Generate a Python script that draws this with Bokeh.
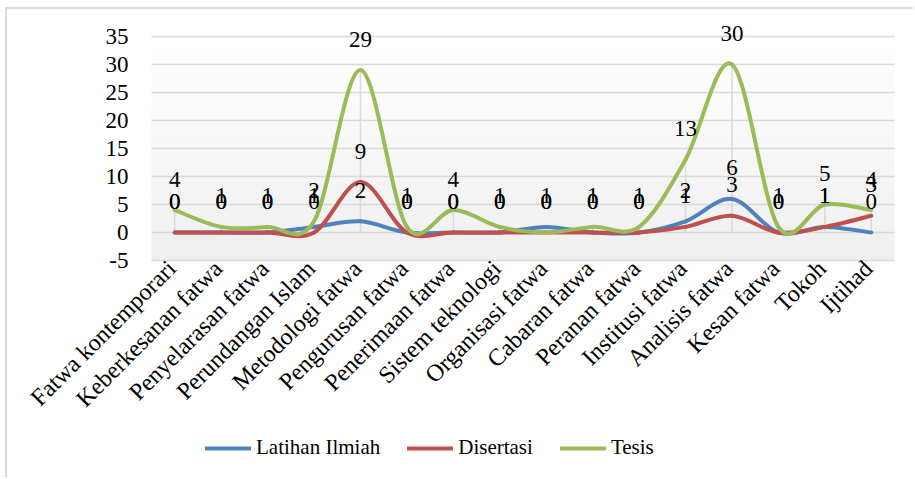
import math
from bokeh.plotting import figure
from bokeh.models import (Range1d, ColumnDataSource, LabelSet,
                          Legend, LegendItem, BoxAnnotation)
from bokeh.embed import file_html
from bokeh.resources import INLINE

categories = ["Fatwa kontemporari", "Keberkesanan fatwa", "Penyelarasan fatwa",
              "Perundangan Islam", "Metodologi fatwa", "Pengurusan fatwa",
              "Penerimaan fatwa", "Sistem teknologi", "Organisasi fatwa",
              "Cabaran fatwa", "Peranan fatwa", "Institusi fatwa",
              "Analisis fatwa", "Kesan fatwa", "Tokoh", "Ijtihad"]
latihan_ilmiah = [0, 0, 0, 1, 2, 0, 0, 0, 1, 0, 0, 2, 6, 0, 1, 0]
disertasi = [0, 0, 0, 0, 9, 0, 0, 0, 0, 0, 0, 1, 3, 0, 1, 3]
tesis = [4, 1, 1, 2, 29, 1, 4, 1, 0, 1, 1, 13, 30, 1, 5, 4]
series_names = ["Latihan Ilmiah", "Disertasi", "Tesis"]
y_ticks = [-5, 0, 5, 10, 15, 20, 25, 30, 35]

COLORS = ["#4f81bd", "#c0504d", "#9bbb59"]
GRID = "#d9d9d9"
FONT = "Liberation Serif"
W, H = 908, 470
# plot-area box in canvas pixels (the frame spans the whole canvas so that
# labels outside the plot area are not clipped)
PA_LEFT, PA_RIGHT, PA_TOP, PA_BOTTOM = 144, 887, 27, 251

n = len(categories)
xs = list(range(n))
x_lo, x_hi = -0.5, n - 0.5
y_lo, y_hi = y_ticks[0], y_ticks[-1]
px_x = (PA_RIGHT - PA_LEFT) / (x_hi - x_lo)
px_y = (PA_BOTTOM - PA_TOP) / (y_hi - y_lo)
x_range = Range1d(x_lo - PA_LEFT / px_x, x_hi + (W - PA_RIGHT) / px_x)
y_range = Range1d(y_lo - (H - PA_BOTTOM) / px_y, y_hi + PA_TOP / px_y)

p = figure(width=W, height=H, output_backend="svg", toolbar_location=None,
           x_range=x_range, y_range=y_range,
           x_axis_location=None, y_axis_location=None,
           min_border=0,
           styles={"margin-left": "5px", "margin-top": "7px",
                   "border-left": "2px solid #d9d9d9",
                   "border-top": "2px solid #d9d9d9"})
p.outline_line_color = None
p.background_fill_color = "white"
p.border_fill_color = "white"
p.grid.grid_line_color = None

# plot-area gradient background (white at top -> light grey at bottom)
nb = 20
step = (y_hi - y_lo) / nb
for k in range(nb):
    t = k / (nb - 1)
    g = int(round(0xef + (0xff - 0xef) * t))
    col = "#%02x%02x%02x" % (g, g, g)
    p.add_layout(BoxAnnotation(left=x_lo, right=x_hi,
                               bottom=y_lo + k * step, top=y_lo + (k + 1) * step,
                               fill_color=col, fill_alpha=1.0, line_color=None,
                               level="image"))

# horizontal gridlines across the plot area
p.segment(x0=[x_lo] * len(y_ticks), y0=y_ticks, x1=[x_hi] * len(y_ticks),
          y1=y_ticks, line_color=GRID, line_width=1.5)

# value-axis tick labels
ysrc = ColumnDataSource(dict(x=[x_lo] * len(y_ticks), y=y_ticks,
                             t=[str(v) for v in y_ticks]))
p.add_layout(LabelSet(x="x", y="y", text="t", source=ysrc, x_offset=-23,
                      text_align="right", text_baseline="middle",
                      text_font=FONT, text_font_size="23px", text_color="black"))

# category labels (rotated 45 degrees, under the plot area)
csrc = ColumnDataSource(dict(x=xs, y=[y_lo] * n, t=categories))
p.add_layout(LabelSet(x="x", y="y", text="t", source=csrc, angle=math.pi / 4,
                      x_offset=-3, y_offset=-4, text_align="right",
                      text_baseline="middle", text_font=FONT,
                      text_font_size="24px", text_color="black"))

# drop lines
tops = [max(a, b, c) for a, b, c in zip(latihan_ilmiah, disertasi, tesis)]
p.segment(x0=xs, y0=[0] * n, x1=xs, y1=tops, line_color=GRID, line_width=1.5)


def bezier_source(xv, yv):
    m = len(xv)
    d = dict(x0=[], y0=[], x1=[], y1=[], cx0=[], cy0=[], cx1=[], cy1=[])
    for i in range(m - 1):
        pm = i - 1 if i > 0 else i
        pp = i + 2 if i + 2 < m else i + 1
        d["x0"].append(xv[i]); d["y0"].append(yv[i])
        d["x1"].append(xv[i + 1]); d["y1"].append(yv[i + 1])
        d["cx0"].append(xv[i] + (xv[i + 1] - xv[pm]) / 6.0)
        d["cy0"].append(yv[i] + (yv[i + 1] - yv[pm]) / 6.0)
        d["cx1"].append(xv[i + 1] - (xv[pp] - xv[i]) / 6.0)
        d["cy1"].append(yv[i + 1] - (yv[pp] - yv[i]) / 6.0)
    return ColumnDataSource(d)


renderers = []
all_series = [latihan_ilmiah, disertasi, tesis]
for vals, col in zip(all_series, COLORS):
    src = bezier_source(xs, vals)
    r = p.bezier(x0="x0", y0="y0", x1="x1", y1="y1", cx0="cx0", cy0="cy0",
                 cx1="cx1", cy1="cy1", source=src, line_color=col, line_width=4,
                 line_cap="round", line_join="round")
    renderers.append(r)

for vals in all_series:
    lsrc = ColumnDataSource(dict(x=xs, y=vals, t=[str(v) for v in vals]))
    p.add_layout(LabelSet(x="x", y="y", text="t", source=lsrc, y_offset=31,
                          text_align="center", text_baseline="middle",
                          text_font=FONT, text_font_size="23px",
                          text_color="black"))

legend = Legend(items=[LegendItem(label=nm, renderers=[r])
                       for nm, r in zip(series_names, renderers)],
                orientation="horizontal", location=(198, 19),
                border_line_color=None, background_fill_alpha=0,
                padding=0, margin=0, spacing=27, glyph_width=46,
                glyph_height=20, label_standoff=5,
                label_text_font=FONT, label_text_font_size="21px",
                label_text_color="black")
p.add_layout(legend)

open("out.html", "w").write(file_html(p, INLINE))
